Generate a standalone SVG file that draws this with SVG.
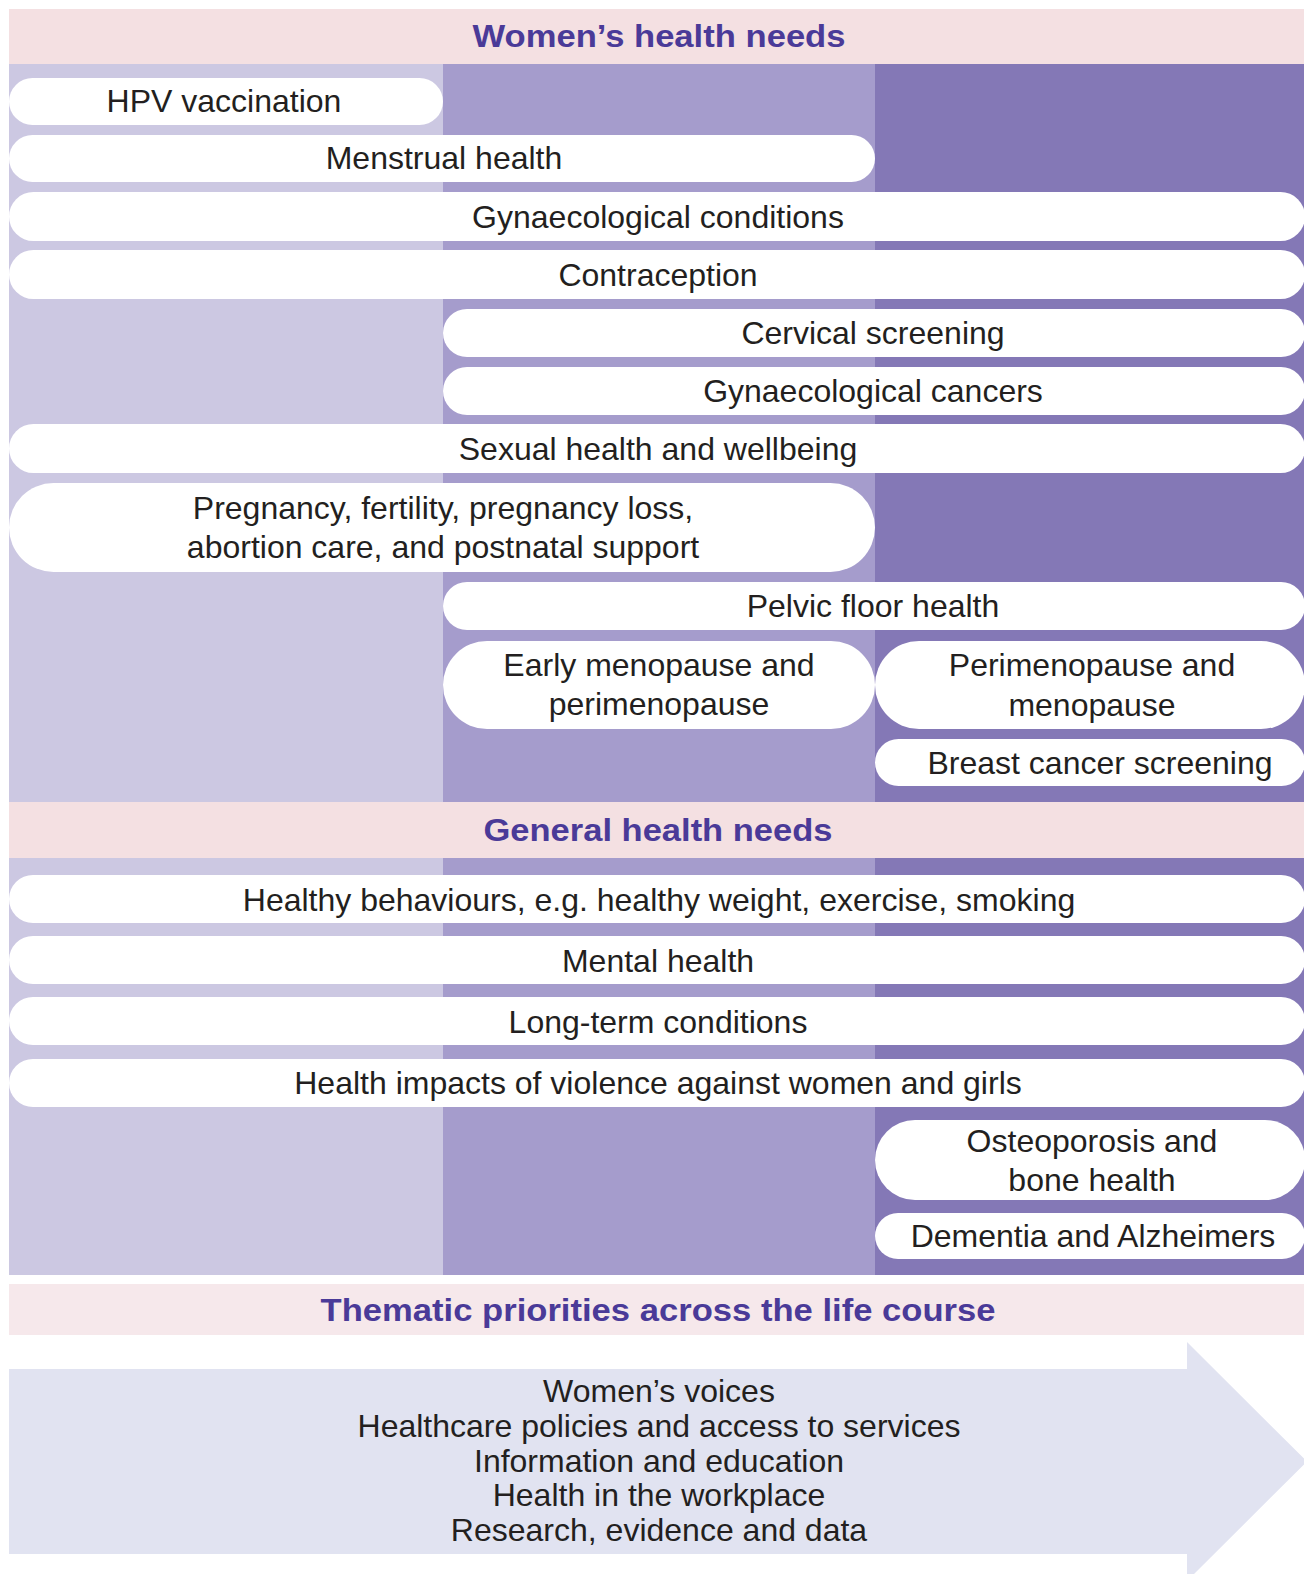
<svg xmlns="http://www.w3.org/2000/svg" width="1304" height="1574" viewBox="0 0 1304 1574">
<style>
.hdr{fill:#F4E0E2}
.hdr3{fill:#F6E8EB}
.c1{fill:#CCC8E2}
.c2{fill:#A59CCC}
.c3{fill:#8478B6}
.pill{fill:#FFFFFF}
.ht{font-family:"Liberation Sans",Arial,sans-serif;font-weight:bold;font-size:32px;fill:#4A3A98;text-anchor:middle}
.t{font-family:"Liberation Sans",Arial,sans-serif;font-size:32px;fill:#231F20;text-anchor:middle}
.arrow{fill:#E1E3F1}
</style>
<rect width="1304" height="1574" fill="#FFFFFF"/>

<!-- background columns -->
<g id="columns">
  <rect class="c1" x="9" y="64" width="434" height="738"/>
  <rect class="c2" x="443" y="64" width="432" height="738"/>
  <rect class="c3" x="875" y="64" width="429" height="738"/>
  <rect class="c1" x="9" y="858" width="434" height="417"/>
  <rect class="c2" x="443" y="858" width="432" height="417"/>
  <rect class="c3" x="875" y="858" width="429" height="417"/>
</g>

<g id="header-womens">
  <rect class="hdr" x="9" y="9" width="1295" height="55"/>
  <text class="ht" x="659" y="47" textLength="373" lengthAdjust="spacingAndGlyphs">Women’s health needs</text>
</g>

<g id="hpv"><rect class="pill" x="9" y="78" width="434" height="47" rx="23.5"/><text class="t" x="224" y="112">HPV vaccination</text></g>
<g id="menstrual"><rect class="pill" x="9" y="135" width="866" height="47" rx="23.5"/><text class="t" x="444" y="169">Menstrual health</text></g>
<g id="gyn-conditions"><rect class="pill" x="9" y="192" width="1296" height="49" rx="24.5"/><text class="t" x="658" y="228">Gynaecological conditions</text></g>
<g id="contraception"><rect class="pill" x="9" y="250" width="1296" height="49" rx="24.5"/><text class="t" x="658" y="286">Contraception</text></g>
<g id="cervical"><rect class="pill" x="443" y="309" width="862" height="48" rx="24"/><text class="t" x="873" y="344">Cervical screening</text></g>
<g id="gyn-cancers"><rect class="pill" x="443" y="367" width="862" height="48" rx="24"/><text class="t" x="873" y="402">Gynaecological cancers</text></g>
<g id="sexual"><rect class="pill" x="9" y="424" width="1296" height="49" rx="24.5"/><text class="t" x="658" y="460">Sexual health and wellbeing</text></g>
<g id="pregnancy"><rect class="pill" x="9" y="483" width="866" height="89" rx="44.5"/>
  <text class="t" x="443" y="519">Pregnancy, fertility, pregnancy loss,</text>
  <text class="t" x="443" y="558">abortion care, and postnatal support</text></g>
<g id="pelvic"><rect class="pill" x="443" y="582" width="862" height="48" rx="24"/><text class="t" x="873" y="617">Pelvic floor health</text></g>
<g id="early-menopause"><rect class="pill" x="443" y="641" width="432" height="88" rx="44"/>
  <text class="t" x="659" y="676">Early menopause and</text>
  <text class="t" x="659" y="715">perimenopause</text></g>
<g id="perimenopause"><rect class="pill" x="875" y="641" width="430" height="88" rx="44"/>
  <text class="t" x="1092" y="676">Perimenopause and</text>
  <text class="t" x="1092" y="716">menopause</text></g>
<g id="breast"><rect class="pill" x="875" y="739" width="430" height="47" rx="23.5"/><text class="t" x="1100" y="774">Breast cancer screening</text></g>

<g id="header-general">
  <rect class="hdr" x="9" y="802" width="1295" height="56"/>
  <text class="ht" x="658" y="841" textLength="349" lengthAdjust="spacingAndGlyphs">General health needs</text>
</g>

<g id="healthy"><rect class="pill" x="9" y="875" width="1296" height="48" rx="24"/><text class="t" x="659" y="911">Healthy behaviours, e.g. healthy weight, exercise, smoking</text></g>
<g id="mental"><rect class="pill" x="9" y="936" width="1296" height="48" rx="24"/><text class="t" x="658" y="972">Mental health</text></g>
<g id="long-term"><rect class="pill" x="9" y="997" width="1296" height="48" rx="24"/><text class="t" x="658" y="1033">Long-term conditions</text></g>
<g id="violence"><rect class="pill" x="9" y="1059" width="1296" height="48" rx="24"/><text class="t" x="658" y="1094">Health impacts of violence against women and girls</text></g>
<g id="osteoporosis"><rect class="pill" x="875" y="1120" width="430" height="80" rx="40"/>
  <text class="t" x="1092" y="1152">Osteoporosis and</text>
  <text class="t" x="1092" y="1191">bone health</text></g>
<g id="dementia"><rect class="pill" x="875" y="1213" width="430" height="46" rx="23"/><text class="t" x="1093" y="1247">Dementia and Alzheimers</text></g>

<g id="header-thematic">
  <rect class="hdr3" x="9" y="1284" width="1295" height="51"/>
  <text class="ht" x="658" y="1321" textLength="675" lengthAdjust="spacingAndGlyphs">Thematic priorities across the life course</text>
</g>

<g id="thematic-arrow">
  <polygon class="arrow" points="9,1369 1187,1369 1187,1342 1307,1461.5 1187,1581 1187,1554 9,1554"/>
  <text class="t" x="659" y="1402">Women’s voices</text>
  <text class="t" x="659" y="1437">Healthcare policies and access to services</text>
  <text class="t" x="659" y="1472">Information and education</text>
  <text class="t" x="659" y="1506">Health in the workplace</text>
  <text class="t" x="659" y="1541">Research, evidence and data</text>
</g>

<g id="connectors"/>
</svg>
